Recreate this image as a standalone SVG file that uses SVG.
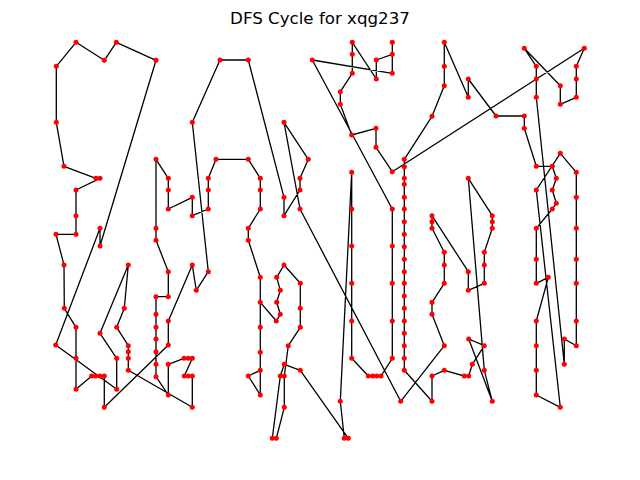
<svg xmlns="http://www.w3.org/2000/svg" width="640" height="480" viewBox="0 0 640 480">
<style>
.edge{fill:none;stroke:#000;stroke-width:1.3;stroke-linejoin:round}
.node circle{fill:#f00}
.title{font-family:"DejaVu Sans",sans-serif;font-size:16.67px;fill:#000}
</style>
<rect width="640" height="480" fill="#fff"/>
<text class="title" x="320" y="24" text-anchor="middle">DFS Cycle for xqg237</text>
<g id="connectors">
<polygon class="edge" points="56.3,66.3 56.3,122.3 64,166.3 96,178.3 100,178.3 76,190 76,215.7 76,234.3 56,234.3 64,265 64.3,308.3 76,327.3 76,358.3 76,389.3 91.7,376 95.7,376 100,376 104.3,376 104.3,407.3 168.3,345 168.3,321 192.3,265 196.3,290.3 208.3,271.7 192.3,122.3 220,60 248.3,60 284,197.3 284,215.7 300,190 300,178.3 308.3,159.3 284,122.3 300,209 400.7,401.3 444.3,345.7 432,314.3 432,302.3 444.3,283.3 444.3,265 444.3,252.3 432,228.3 432,221.7 432,215.7 468.3,271.7 468.3,290.3 484.3,283.3 484.3,265 484.3,252.3 492.3,228.3 492.3,221.7 492.3,215.7 468.3,178.3 484.3,370.3 492.3,401.3 468.7,339 484.3,345.7 472.3,364.3 468.7,376 464.3,376 444.3,370.3 432,376 432,401.3 404.3,370.3 404.3,358.3 404.3,345.7 404.3,333.3 404.3,321 404.3,308.3 404.3,296 404.3,283.3 404.3,271.7 404.3,259.3 404.3,246.7 404.3,234.3 404.3,221.7 404.3,209 404.3,197.3 404.3,184.3 404.3,178.3 404.3,166.7 404.3,159.3 432,116.3 444.3,85.7 444.3,66.3 444.3,42.3 468.3,97.3 468.3,79 496,116 524.3,116 524.3,128.3 536.3,166.3 552.3,166.3 556.3,178.3 552.3,190 556.3,203.3 552.3,209 536.3,228.3 536.3,259.3 536.3,283.3 548.3,277.3 536.3,321 536.3,345.7 536.3,370.3 536.3,395 560.3,407.3 536.3,190 560.3,153.3 576.3,172.3 576.3,197.3 576.3,228.3 576.3,259.3 576.3,283.3 576.3,321 576.3,345.7 564.3,339 564.3,364.3 536.3,97.3 536.3,79 536.3,66.3 524.3,48.3 560.3,85.7 560.3,104.3 576.3,97.3 576.3,79 576.3,66.3 584.3,48.3 392.3,171.7 376,147.3 376,128.3 351.7,135 340.3,104.3 340.3,91.7 352.3,73.3 352.3,54.3 352.3,42.3 376.3,79 376.3,60 392.3,54.3 392.3,42.3 392.3,73.3 312.3,60 392.3,209 392.3,246 392.3,283.3 392.3,321 392.3,358.3 381,376 376.7,376 372.7,376 368.3,376 351.7,358.3 351.7,321 351.7,283.3 351.7,246 351.7,209 351.7,172.3 340.3,401.3 344.3,438.3 348.3,438.3 300.3,370.3 284.3,364.3 280.3,376 272.3,438.3 276.3,438.3 284.3,407.3 284.3,376 288.3,345.7 300.3,327.3 300.3,308.3 300.3,283.3 284,265 276.7,277.3 280.3,290.3 276.7,302.3 280.3,314.3 276.3,321 260.3,302.3 260.3,327.3 260.3,352.3 260.3,370.3 248.3,376 260.3,395 260.3,277.3 248.3,240.3 248.3,228.3 260.3,209 260.3,190 260.3,178.3 248.3,159.3 216,159.3 208.3,178.3 208.3,190 208.3,209 192.3,215.7 192.3,197.3 168.3,209 168.3,190 168.3,178.3 156,159.3 156,228.3 156,240.3 168.3,271.7 168.3,296.7 156,296.7 156,314.3 156,327.3 156,339 156,351.7 156,364.3 156,376.7 168.3,395 168.3,364.3 184,358.3 188.3,358.3 192.3,358.3 184.3,376 188.3,376 192.3,376 192.3,407.3 128.3,370.3 128.3,358.3 128.3,351.7 128.3,345.7 116.7,327.3 124.3,308.3 128.3,265 100,333.3 116.7,358.3 116.7,389.3 55.7,345 100,228.3 100,246 156,60.3 116.3,42.3 104.3,60.3 76,42.3"/>
</g>
<g class="node">
<g id="n1"><circle cx="56.3" cy="66.3" r="2.5"/></g>
<g id="n2"><circle cx="56.3" cy="122.3" r="2.5"/></g>
<g id="n3"><circle cx="64" cy="166.3" r="2.5"/></g>
<g id="n4"><circle cx="96" cy="178.3" r="2.5"/></g>
<g id="n5"><circle cx="100" cy="178.3" r="2.5"/></g>
<g id="n6"><circle cx="76" cy="190" r="2.5"/></g>
<g id="n7"><circle cx="76" cy="215.7" r="2.5"/></g>
<g id="n8"><circle cx="76" cy="234.3" r="2.5"/></g>
<g id="n9"><circle cx="56" cy="234.3" r="2.5"/></g>
<g id="n10"><circle cx="64" cy="265" r="2.5"/></g>
<g id="n11"><circle cx="64.3" cy="308.3" r="2.5"/></g>
<g id="n12"><circle cx="76" cy="327.3" r="2.5"/></g>
<g id="n13"><circle cx="76" cy="358.3" r="2.5"/></g>
<g id="n14"><circle cx="76" cy="389.3" r="2.5"/></g>
<g id="n15"><circle cx="91.7" cy="376" r="2.5"/></g>
<g id="n16"><circle cx="95.7" cy="376" r="2.5"/></g>
<g id="n17"><circle cx="100" cy="376" r="2.5"/></g>
<g id="n18"><circle cx="104.3" cy="376" r="2.5"/></g>
<g id="n19"><circle cx="104.3" cy="407.3" r="2.5"/></g>
<g id="n20"><circle cx="168.3" cy="345" r="2.5"/></g>
<g id="n21"><circle cx="168.3" cy="321" r="2.5"/></g>
<g id="n22"><circle cx="192.3" cy="265" r="2.5"/></g>
<g id="n23"><circle cx="196.3" cy="290.3" r="2.5"/></g>
<g id="n24"><circle cx="208.3" cy="271.7" r="2.5"/></g>
<g id="n25"><circle cx="192.3" cy="122.3" r="2.5"/></g>
<g id="n26"><circle cx="220" cy="60" r="2.5"/></g>
<g id="n27"><circle cx="248.3" cy="60" r="2.5"/></g>
<g id="n28"><circle cx="284" cy="197.3" r="2.5"/></g>
<g id="n29"><circle cx="284" cy="215.7" r="2.5"/></g>
<g id="n30"><circle cx="300" cy="190" r="2.5"/></g>
<g id="n31"><circle cx="300" cy="178.3" r="2.5"/></g>
<g id="n32"><circle cx="308.3" cy="159.3" r="2.5"/></g>
<g id="n33"><circle cx="284" cy="122.3" r="2.5"/></g>
<g id="n34"><circle cx="300" cy="209" r="2.5"/></g>
<g id="n35"><circle cx="400.7" cy="401.3" r="2.5"/></g>
<g id="n36"><circle cx="444.3" cy="345.7" r="2.5"/></g>
<g id="n37"><circle cx="432" cy="314.3" r="2.5"/></g>
<g id="n38"><circle cx="432" cy="302.3" r="2.5"/></g>
<g id="n39"><circle cx="444.3" cy="283.3" r="2.5"/></g>
<g id="n40"><circle cx="444.3" cy="265" r="2.5"/></g>
<g id="n41"><circle cx="444.3" cy="252.3" r="2.5"/></g>
<g id="n42"><circle cx="432" cy="228.3" r="2.5"/></g>
<g id="n43"><circle cx="432" cy="221.7" r="2.5"/></g>
<g id="n44"><circle cx="432" cy="215.7" r="2.5"/></g>
<g id="n45"><circle cx="468.3" cy="271.7" r="2.5"/></g>
<g id="n46"><circle cx="468.3" cy="290.3" r="2.5"/></g>
<g id="n47"><circle cx="484.3" cy="283.3" r="2.5"/></g>
<g id="n48"><circle cx="484.3" cy="265" r="2.5"/></g>
<g id="n49"><circle cx="484.3" cy="252.3" r="2.5"/></g>
<g id="n50"><circle cx="492.3" cy="228.3" r="2.5"/></g>
<g id="n51"><circle cx="492.3" cy="221.7" r="2.5"/></g>
<g id="n52"><circle cx="492.3" cy="215.7" r="2.5"/></g>
<g id="n53"><circle cx="468.3" cy="178.3" r="2.5"/></g>
<g id="n54"><circle cx="484.3" cy="370.3" r="2.5"/></g>
<g id="n55"><circle cx="492.3" cy="401.3" r="2.5"/></g>
<g id="n56"><circle cx="468.7" cy="339" r="2.5"/></g>
<g id="n57"><circle cx="484.3" cy="345.7" r="2.5"/></g>
<g id="n58"><circle cx="472.3" cy="364.3" r="2.5"/></g>
<g id="n59"><circle cx="468.7" cy="376" r="2.5"/></g>
<g id="n60"><circle cx="464.3" cy="376" r="2.5"/></g>
<g id="n61"><circle cx="444.3" cy="370.3" r="2.5"/></g>
<g id="n62"><circle cx="432" cy="376" r="2.5"/></g>
<g id="n63"><circle cx="432" cy="401.3" r="2.5"/></g>
<g id="n64"><circle cx="404.3" cy="370.3" r="2.5"/></g>
<g id="n65"><circle cx="404.3" cy="358.3" r="2.5"/></g>
<g id="n66"><circle cx="404.3" cy="345.7" r="2.5"/></g>
<g id="n67"><circle cx="404.3" cy="333.3" r="2.5"/></g>
<g id="n68"><circle cx="404.3" cy="321" r="2.5"/></g>
<g id="n69"><circle cx="404.3" cy="308.3" r="2.5"/></g>
<g id="n70"><circle cx="404.3" cy="296" r="2.5"/></g>
<g id="n71"><circle cx="404.3" cy="283.3" r="2.5"/></g>
<g id="n72"><circle cx="404.3" cy="271.7" r="2.5"/></g>
<g id="n73"><circle cx="404.3" cy="259.3" r="2.5"/></g>
<g id="n74"><circle cx="404.3" cy="246.7" r="2.5"/></g>
<g id="n75"><circle cx="404.3" cy="234.3" r="2.5"/></g>
<g id="n76"><circle cx="404.3" cy="221.7" r="2.5"/></g>
<g id="n77"><circle cx="404.3" cy="209" r="2.5"/></g>
<g id="n78"><circle cx="404.3" cy="197.3" r="2.5"/></g>
<g id="n79"><circle cx="404.3" cy="184.3" r="2.5"/></g>
<g id="n80"><circle cx="404.3" cy="178.3" r="2.5"/></g>
<g id="n81"><circle cx="404.3" cy="166.7" r="2.5"/></g>
<g id="n82"><circle cx="404.3" cy="159.3" r="2.5"/></g>
<g id="n83"><circle cx="432" cy="116.3" r="2.5"/></g>
<g id="n84"><circle cx="444.3" cy="85.7" r="2.5"/></g>
<g id="n85"><circle cx="444.3" cy="66.3" r="2.5"/></g>
<g id="n86"><circle cx="444.3" cy="42.3" r="2.5"/></g>
<g id="n87"><circle cx="468.3" cy="97.3" r="2.5"/></g>
<g id="n88"><circle cx="468.3" cy="79" r="2.5"/></g>
<g id="n89"><circle cx="496" cy="116" r="2.5"/></g>
<g id="n90"><circle cx="524.3" cy="116" r="2.5"/></g>
<g id="n91"><circle cx="524.3" cy="128.3" r="2.5"/></g>
<g id="n92"><circle cx="536.3" cy="166.3" r="2.5"/></g>
<g id="n93"><circle cx="552.3" cy="166.3" r="2.5"/></g>
<g id="n94"><circle cx="556.3" cy="178.3" r="2.5"/></g>
<g id="n95"><circle cx="552.3" cy="190" r="2.5"/></g>
<g id="n96"><circle cx="556.3" cy="203.3" r="2.5"/></g>
<g id="n97"><circle cx="552.3" cy="209" r="2.5"/></g>
<g id="n98"><circle cx="536.3" cy="228.3" r="2.5"/></g>
<g id="n99"><circle cx="536.3" cy="259.3" r="2.5"/></g>
<g id="n100"><circle cx="536.3" cy="283.3" r="2.5"/></g>
<g id="n101"><circle cx="548.3" cy="277.3" r="2.5"/></g>
<g id="n102"><circle cx="536.3" cy="321" r="2.5"/></g>
<g id="n103"><circle cx="536.3" cy="345.7" r="2.5"/></g>
<g id="n104"><circle cx="536.3" cy="370.3" r="2.5"/></g>
<g id="n105"><circle cx="536.3" cy="395" r="2.5"/></g>
<g id="n106"><circle cx="560.3" cy="407.3" r="2.5"/></g>
<g id="n107"><circle cx="536.3" cy="190" r="2.5"/></g>
<g id="n108"><circle cx="560.3" cy="153.3" r="2.5"/></g>
<g id="n109"><circle cx="576.3" cy="172.3" r="2.5"/></g>
<g id="n110"><circle cx="576.3" cy="197.3" r="2.5"/></g>
<g id="n111"><circle cx="576.3" cy="228.3" r="2.5"/></g>
<g id="n112"><circle cx="576.3" cy="259.3" r="2.5"/></g>
<g id="n113"><circle cx="576.3" cy="283.3" r="2.5"/></g>
<g id="n114"><circle cx="576.3" cy="321" r="2.5"/></g>
<g id="n115"><circle cx="576.3" cy="345.7" r="2.5"/></g>
<g id="n116"><circle cx="564.3" cy="339" r="2.5"/></g>
<g id="n117"><circle cx="564.3" cy="364.3" r="2.5"/></g>
<g id="n118"><circle cx="536.3" cy="97.3" r="2.5"/></g>
<g id="n119"><circle cx="536.3" cy="79" r="2.5"/></g>
<g id="n120"><circle cx="536.3" cy="66.3" r="2.5"/></g>
<g id="n121"><circle cx="524.3" cy="48.3" r="2.5"/></g>
<g id="n122"><circle cx="560.3" cy="85.7" r="2.5"/></g>
<g id="n123"><circle cx="560.3" cy="104.3" r="2.5"/></g>
<g id="n124"><circle cx="576.3" cy="97.3" r="2.5"/></g>
<g id="n125"><circle cx="576.3" cy="79" r="2.5"/></g>
<g id="n126"><circle cx="576.3" cy="66.3" r="2.5"/></g>
<g id="n127"><circle cx="584.3" cy="48.3" r="2.5"/></g>
<g id="n128"><circle cx="392.3" cy="171.7" r="2.5"/></g>
<g id="n129"><circle cx="376" cy="147.3" r="2.5"/></g>
<g id="n130"><circle cx="376" cy="128.3" r="2.5"/></g>
<g id="n131"><circle cx="351.7" cy="135" r="2.5"/></g>
<g id="n132"><circle cx="340.3" cy="104.3" r="2.5"/></g>
<g id="n133"><circle cx="340.3" cy="91.7" r="2.5"/></g>
<g id="n134"><circle cx="352.3" cy="73.3" r="2.5"/></g>
<g id="n135"><circle cx="352.3" cy="54.3" r="2.5"/></g>
<g id="n136"><circle cx="352.3" cy="42.3" r="2.5"/></g>
<g id="n137"><circle cx="376.3" cy="79" r="2.5"/></g>
<g id="n138"><circle cx="376.3" cy="60" r="2.5"/></g>
<g id="n139"><circle cx="392.3" cy="54.3" r="2.5"/></g>
<g id="n140"><circle cx="392.3" cy="42.3" r="2.5"/></g>
<g id="n141"><circle cx="392.3" cy="73.3" r="2.5"/></g>
<g id="n142"><circle cx="312.3" cy="60" r="2.5"/></g>
<g id="n143"><circle cx="392.3" cy="209" r="2.5"/></g>
<g id="n144"><circle cx="392.3" cy="246" r="2.5"/></g>
<g id="n145"><circle cx="392.3" cy="283.3" r="2.5"/></g>
<g id="n146"><circle cx="392.3" cy="321" r="2.5"/></g>
<g id="n147"><circle cx="392.3" cy="358.3" r="2.5"/></g>
<g id="n148"><circle cx="381" cy="376" r="2.5"/></g>
<g id="n149"><circle cx="376.7" cy="376" r="2.5"/></g>
<g id="n150"><circle cx="372.7" cy="376" r="2.5"/></g>
<g id="n151"><circle cx="368.3" cy="376" r="2.5"/></g>
<g id="n152"><circle cx="351.7" cy="358.3" r="2.5"/></g>
<g id="n153"><circle cx="351.7" cy="321" r="2.5"/></g>
<g id="n154"><circle cx="351.7" cy="283.3" r="2.5"/></g>
<g id="n155"><circle cx="351.7" cy="246" r="2.5"/></g>
<g id="n156"><circle cx="351.7" cy="209" r="2.5"/></g>
<g id="n157"><circle cx="351.7" cy="172.3" r="2.5"/></g>
<g id="n158"><circle cx="340.3" cy="401.3" r="2.5"/></g>
<g id="n159"><circle cx="344.3" cy="438.3" r="2.5"/></g>
<g id="n160"><circle cx="348.3" cy="438.3" r="2.5"/></g>
<g id="n161"><circle cx="300.3" cy="370.3" r="2.5"/></g>
<g id="n162"><circle cx="284.3" cy="364.3" r="2.5"/></g>
<g id="n163"><circle cx="280.3" cy="376" r="2.5"/></g>
<g id="n164"><circle cx="272.3" cy="438.3" r="2.5"/></g>
<g id="n165"><circle cx="276.3" cy="438.3" r="2.5"/></g>
<g id="n166"><circle cx="284.3" cy="407.3" r="2.5"/></g>
<g id="n167"><circle cx="284.3" cy="376" r="2.5"/></g>
<g id="n168"><circle cx="288.3" cy="345.7" r="2.5"/></g>
<g id="n169"><circle cx="300.3" cy="327.3" r="2.5"/></g>
<g id="n170"><circle cx="300.3" cy="308.3" r="2.5"/></g>
<g id="n171"><circle cx="300.3" cy="283.3" r="2.5"/></g>
<g id="n172"><circle cx="284" cy="265" r="2.5"/></g>
<g id="n173"><circle cx="276.7" cy="277.3" r="2.5"/></g>
<g id="n174"><circle cx="280.3" cy="290.3" r="2.5"/></g>
<g id="n175"><circle cx="276.7" cy="302.3" r="2.5"/></g>
<g id="n176"><circle cx="280.3" cy="314.3" r="2.5"/></g>
<g id="n177"><circle cx="276.3" cy="321" r="2.5"/></g>
<g id="n178"><circle cx="260.3" cy="302.3" r="2.5"/></g>
<g id="n179"><circle cx="260.3" cy="327.3" r="2.5"/></g>
<g id="n180"><circle cx="260.3" cy="352.3" r="2.5"/></g>
<g id="n181"><circle cx="260.3" cy="370.3" r="2.5"/></g>
<g id="n182"><circle cx="248.3" cy="376" r="2.5"/></g>
<g id="n183"><circle cx="260.3" cy="395" r="2.5"/></g>
<g id="n184"><circle cx="260.3" cy="277.3" r="2.5"/></g>
<g id="n185"><circle cx="248.3" cy="240.3" r="2.5"/></g>
<g id="n186"><circle cx="248.3" cy="228.3" r="2.5"/></g>
<g id="n187"><circle cx="260.3" cy="209" r="2.5"/></g>
<g id="n188"><circle cx="260.3" cy="190" r="2.5"/></g>
<g id="n189"><circle cx="260.3" cy="178.3" r="2.5"/></g>
<g id="n190"><circle cx="248.3" cy="159.3" r="2.5"/></g>
<g id="n191"><circle cx="216" cy="159.3" r="2.5"/></g>
<g id="n192"><circle cx="208.3" cy="178.3" r="2.5"/></g>
<g id="n193"><circle cx="208.3" cy="190" r="2.5"/></g>
<g id="n194"><circle cx="208.3" cy="209" r="2.5"/></g>
<g id="n195"><circle cx="192.3" cy="215.7" r="2.5"/></g>
<g id="n196"><circle cx="192.3" cy="197.3" r="2.5"/></g>
<g id="n197"><circle cx="168.3" cy="209" r="2.5"/></g>
<g id="n198"><circle cx="168.3" cy="190" r="2.5"/></g>
<g id="n199"><circle cx="168.3" cy="178.3" r="2.5"/></g>
<g id="n200"><circle cx="156" cy="159.3" r="2.5"/></g>
<g id="n201"><circle cx="156" cy="228.3" r="2.5"/></g>
<g id="n202"><circle cx="156" cy="240.3" r="2.5"/></g>
<g id="n203"><circle cx="168.3" cy="271.7" r="2.5"/></g>
<g id="n204"><circle cx="168.3" cy="296.7" r="2.5"/></g>
<g id="n205"><circle cx="156" cy="296.7" r="2.5"/></g>
<g id="n206"><circle cx="156" cy="314.3" r="2.5"/></g>
<g id="n207"><circle cx="156" cy="327.3" r="2.5"/></g>
<g id="n208"><circle cx="156" cy="339" r="2.5"/></g>
<g id="n209"><circle cx="156" cy="351.7" r="2.5"/></g>
<g id="n210"><circle cx="156" cy="364.3" r="2.5"/></g>
<g id="n211"><circle cx="156" cy="376.7" r="2.5"/></g>
<g id="n212"><circle cx="168.3" cy="395" r="2.5"/></g>
<g id="n213"><circle cx="168.3" cy="364.3" r="2.5"/></g>
<g id="n214"><circle cx="184" cy="358.3" r="2.5"/></g>
<g id="n215"><circle cx="188.3" cy="358.3" r="2.5"/></g>
<g id="n216"><circle cx="192.3" cy="358.3" r="2.5"/></g>
<g id="n217"><circle cx="184.3" cy="376" r="2.5"/></g>
<g id="n218"><circle cx="188.3" cy="376" r="2.5"/></g>
<g id="n219"><circle cx="192.3" cy="376" r="2.5"/></g>
<g id="n220"><circle cx="192.3" cy="407.3" r="2.5"/></g>
<g id="n221"><circle cx="128.3" cy="370.3" r="2.5"/></g>
<g id="n222"><circle cx="128.3" cy="358.3" r="2.5"/></g>
<g id="n223"><circle cx="128.3" cy="351.7" r="2.5"/></g>
<g id="n224"><circle cx="128.3" cy="345.7" r="2.5"/></g>
<g id="n225"><circle cx="116.7" cy="327.3" r="2.5"/></g>
<g id="n226"><circle cx="124.3" cy="308.3" r="2.5"/></g>
<g id="n227"><circle cx="128.3" cy="265" r="2.5"/></g>
<g id="n228"><circle cx="100" cy="333.3" r="2.5"/></g>
<g id="n229"><circle cx="116.7" cy="358.3" r="2.5"/></g>
<g id="n230"><circle cx="116.7" cy="389.3" r="2.5"/></g>
<g id="n231"><circle cx="55.7" cy="345" r="2.5"/></g>
<g id="n232"><circle cx="100" cy="228.3" r="2.5"/></g>
<g id="n233"><circle cx="100" cy="246" r="2.5"/></g>
<g id="n234"><circle cx="156" cy="60.3" r="2.5"/></g>
<g id="n235"><circle cx="116.3" cy="42.3" r="2.5"/></g>
<g id="n236"><circle cx="104.3" cy="60.3" r="2.5"/></g>
<g id="n237"><circle cx="76" cy="42.3" r="2.5"/></g>
</g>
</svg>
